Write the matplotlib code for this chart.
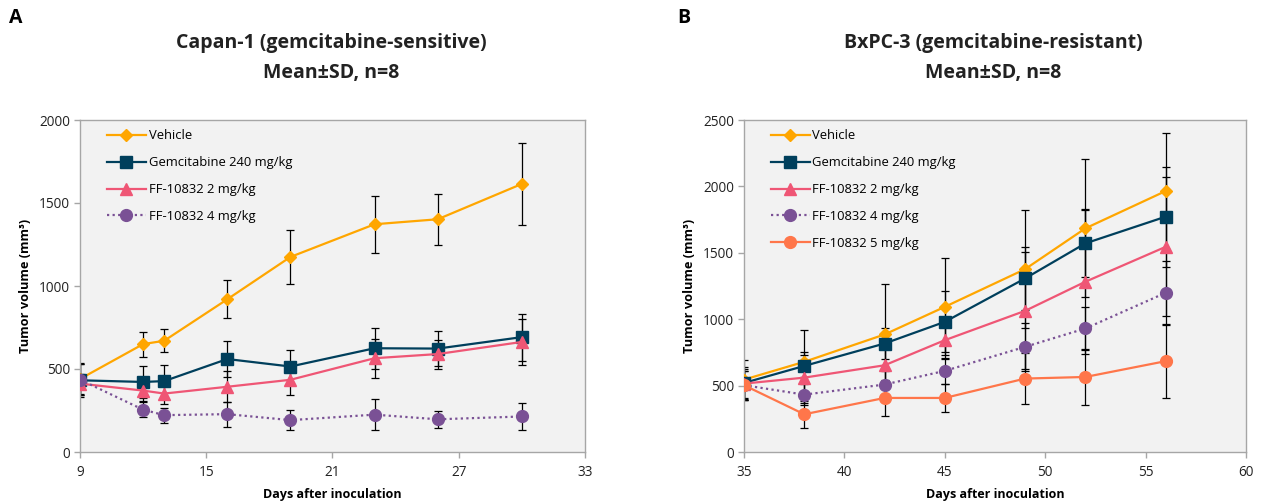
import matplotlib
matplotlib.use("Agg")
import matplotlib.pyplot as plt

# ---------------- data ----------------
days_a = [9, 12, 13, 16, 19, 23, 26, 30]
veh_a = [440, 650, 670, 920, 1175, 1372, 1402, 1615]
veh_a_err = [95, 75, 70, 115, 160, 172, 155, 245]
gem_a = [432, 422, 427, 560, 515, 625, 623, 692]
gem_a_err = [100, 97, 100, 108, 102, 125, 107, 142]
ff2_a = [412, 370, 352, 393, 435, 565, 590, 663]
ff2_a_err = [60, 60, 62, 92, 92, 117, 87, 140]
ff4_a = [436, 255, 222, 228, 192, 225, 197, 214]
ff4_a_err = [95, 47, 45, 75, 62, 92, 50, 82]

days_b = [35, 38, 42, 45, 49, 52, 56]
veh_b = [545, 679, 885, 1093, 1377, 1684, 1965]
veh_b_err = [150, 240, 380, 365, 445, 520, 440]
gem_b = [520, 648, 817, 980, 1307, 1571, 1772]
gem_b_err = [120, 80, 120, 230, 240, 255, 377]
ff2_b = [515, 560, 653, 842, 1063, 1282, 1545]
ff2_b_err = [110, 190, 240, 140, 440, 545, 523]
ff4_b = [503, 432, 508, 611, 792, 930, 1199]
ff4_b_err = [110, 80, 100, 100, 180, 160, 240]
ff5_b = [503, 284, 407, 407, 553, 565, 684]
ff5_b_err = [110, 103, 138, 105, 191, 208, 277]

labels = ["Vehicle", "Gemcitabine 240 mg/kg", "FF-10832 2 mg/kg",
          "FF-10832 4 mg/kg", "FF-10832 5 mg/kg"]
colors = ["#ffa600", "#003f5c", "#ef5675", "#7a5195", "#ff764a"]
markers = ["D", "s", "^", "o", "o"]
msizes = [6.5, 8, 8, 8.5, 8.5]
lstyles = ["-", "-", "-", (0, (1, 1.5)), "-"]

plt.rcParams['font.family'] = ['Open Sans', 'DejaVu Sans']

fig = plt.figure(figsize=(12.62, 5.04), dpi=100)
W, H = 1262, 504

def make_ax(l, r, t, b):
    return fig.add_axes([l / W, (H - b) / H, (r - l) / W, (b - t) / H])

axA = make_ax(80, 585, 120, 452)
axB = make_ax(744, 1246, 120, 452)

def style(ax, xlim, xticks, ylim, yticks):
    ax.set_facecolor("#f2f2f2")
    ax.set_xlim(*xlim)
    ax.set_ylim(*ylim)
    ax.set_xticks(xticks)
    ax.set_yticks(yticks)
    for s in ax.spines.values():
        s.set_color("#a6a6a6")
        s.set_linewidth(1.0)
    ax.tick_params(axis='both', direction='out', length=4, width=1,
                   color="#a6a6a6", labelsize=9.8, labelcolor="#222222")
    ax.tick_params(axis='x', pad=5)
    ax.tick_params(axis='y', pad=3)
    ax.set_xlabel("Days after inoculation", fontsize=9, fontweight='bold', labelpad=6)
    ax.set_ylabel("Tumor volume (mm³)", fontsize=9.2, fontweight='bold', labelpad=5)

def plot_series(ax, x, y, e, i):
    ax.errorbar(x, y, yerr=e, fmt='none', ecolor='black', elinewidth=0.9,
                capsize=3, capthick=0.9, zorder=2)
    ax.plot(x, y, color=colors[i], linestyle=lstyles[i], linewidth=1.6,
            marker=markers[i], markersize=msizes[i], markerfacecolor=colors[i],
            markeredgecolor=colors[i], label=labels[i], zorder=3)

style(axA, (9, 33), [9, 15, 21, 27, 33], (0, 2000), [0, 500, 1000, 1500, 2000])
plot_series(axA, days_a, veh_a, veh_a_err, 0)
plot_series(axA, days_a, gem_a, gem_a_err, 1)
plot_series(axA, days_a, ff2_a, ff2_a_err, 2)
plot_series(axA, days_a, ff4_a, ff4_a_err, 3)

style(axB, (35, 60), [35, 40, 45, 50, 55, 60], (0, 2500), [0, 500, 1000, 1500, 2000, 2500])
plot_series(axB, days_b, veh_b, veh_b_err, 0)
plot_series(axB, days_b, gem_b, gem_b_err, 1)
plot_series(axB, days_b, ff2_b, ff2_b_err, 2)
plot_series(axB, days_b, ff4_b, ff4_b_err, 3)
plot_series(axB, days_b, ff5_b, ff5_b_err, 4)

for ax in (axA, axB):
    ax.legend(loc='upper left', frameon=False, fontsize=9.4, handlelength=3.0,
              handletextpad=0.2, labelspacing=1.07, borderaxespad=0.3,
              bbox_to_anchor=(0.035, 1.0))

# titles and panel letters
def ftext(x, y, s, **kw):
    fig.text(x / W, (H - y) / H, s, **kw)

ftext(16, 18, "A", fontsize=14, fontweight='bold', ha='center', va='center')
ftext(684, 18, "B", fontsize=14, fontweight='bold', ha='center', va='center')
ftext(331, 43, "Capan-1 (gemcitabine-sensitive)", fontsize=14, fontweight='bold',
      ha='center', va='center', color="#222222")
ftext(331, 73, "Mean±SD, n=8", fontsize=14, fontweight='bold',
      ha='center', va='center', color="#222222")
ftext(993, 43, "BxPC-3 (gemcitabine-resistant)", fontsize=14, fontweight='bold',
      ha='center', va='center', color="#222222")
ftext(993, 73, "Mean±SD, n=8", fontsize=14, fontweight='bold',
      ha='center', va='center', color="#222222")

fig.savefig("out.png", dpi=100)
